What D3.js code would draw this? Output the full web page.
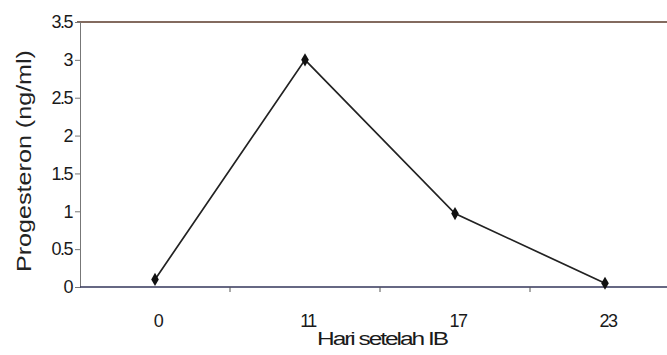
<!DOCTYPE html>
<html><head><meta charset="utf-8">
<script src="https://cdn.jsdelivr.net/npm/d3@7"></script>
<style>body{margin:0;background:#fff}svg{display:block}text{font-family:"Liberation Sans",Arial,sans-serif}</style>
</head><body><svg id="c" width="667" height="355"></svg>
<script>
const categories = ["0", "11", "17", "23"];
const progesteron = [0.1, 3.0, 0.97, 0.05];
const yTicks = [0, 0.5, 1, 1.5, 2, 2.5, 3, 3.5];
const yTickLabels = ["0", "0.5", "1", "1.5", "2", "2.5", "3", "3.5"];

const svg = d3.select("#c");
const m = {l: 80, t: 22, b: 287, r: 680};
const x = d3.scaleBand().domain(categories).range([m.l, m.r]);
const y = d3.scaleLinear().domain([0, 3.5]).range([m.b, m.t]);

// top border line
svg.append("line").attr("x1", m.l - 3).attr("x2", 667).attr("y1", y(3.5)).attr("y2", y(3.5))
  .attr("stroke", "#5a3a2a").attr("stroke-width", 1.6);

// y axis
const ya = svg.append("g").attr("transform", `translate(${m.l},0)`)
  .call(d3.axisLeft(y).tickValues(yTicks).tickFormat((d,i)=>yTickLabels[i]).tickSize(5).tickPadding(3));
ya.select(".domain").attr("stroke", "#777");
ya.selectAll(".tick line").attr("stroke", "#777");
ya.selectAll("text").attr("font-size", 18).attr("fill", "#1a1a1a").attr("letter-spacing", "-1.5px");

// x axis
const xa = svg.append("g").attr("transform", `translate(0,${m.b})`)
  .call(d3.axisBottom(x).tickSize(0).tickPadding(27));
xa.select(".domain").remove();
xa.selectAll("text").attr("font-size", 18).attr("fill", "#1a1a1a").attr("letter-spacing", "-1.5px").attr("dx", 3);
svg.append("line").attr("x1", m.l).attr("x2", 667).attr("y1", m.b).attr("y2", m.b)
  .attr("stroke", "#33365a").attr("stroke-width", 1.6);
// band boundary ticks
svg.selectAll(".bt").data(categories.slice(1)).join("line")
  .attr("x1", d => x(d)).attr("x2", d => x(d)).attr("y1", m.b).attr("y2", m.b + 5)
  .attr("stroke", "#555");

// line
const line = d3.line().x((d,i)=>x(categories[i]) + x.bandwidth()/2).y(d=>y(d));
svg.append("path").datum(progesteron).attr("d", line).attr("fill", "none")
  .attr("stroke", "#222").attr("stroke-width", 1.7);
svg.selectAll(".pt").data(progesteron).join("path")
  .attr("d", d3.symbol(d3.symbolDiamond, 50))
  .attr("transform", (d,i)=>`translate(${x(categories[i]) + x.bandwidth()/2},${y(d)})`)
  .attr("fill", "#111");

// labels
svg.append("text").attr("transform", "translate(31,161) rotate(-90)").attr("text-anchor", "middle")
  .attr("font-size", 20).attr("fill", "#222").attr("textLength", 222).attr("lengthAdjust", "spacingAndGlyphs")
  .text("Progesteron (ng/ml)");
svg.append("text").attr("x", 382).attr("y", 345).attr("text-anchor", "middle")
  .attr("font-size", 18).attr("fill", "#1a1a1a").attr("textLength", 130).attr("lengthAdjust", "spacingAndGlyphs")
  .attr("letter-spacing", "-1.5px").text("Hari setelah IB");
</script></body></html>
